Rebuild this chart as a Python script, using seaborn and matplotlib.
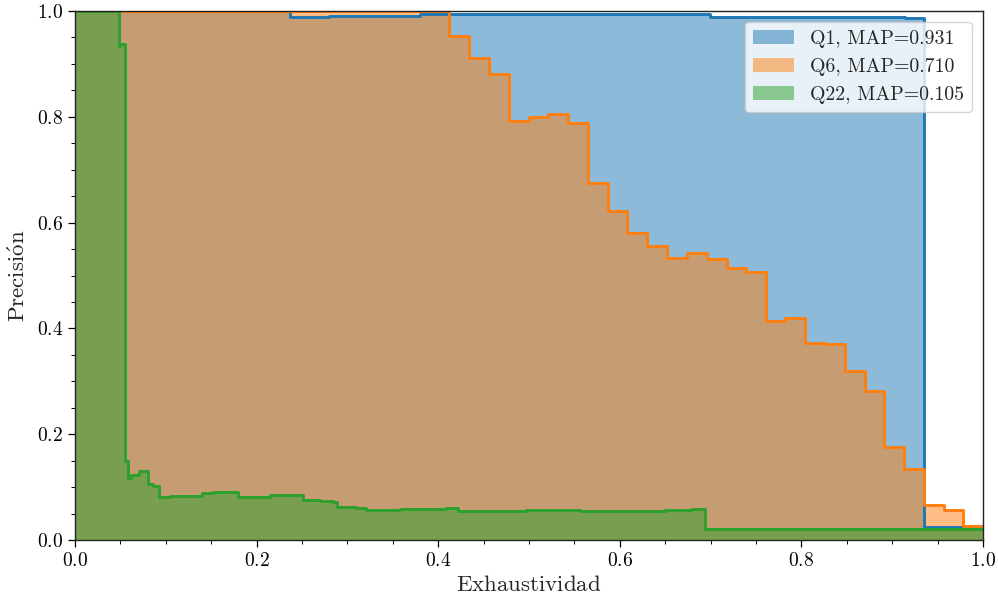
import numpy as np
import pandas as pd
import matplotlib
matplotlib.use("Agg")
import matplotlib.pyplot as plt
import seaborn as sns
from matplotlib.ticker import MultipleLocator

# ---------------- data ----------------
q1_recall = [0.0, 0.237, 0.280, 0.330, 0.380, 0.699, 0.914, 0.935, 1.0]
q1_precision = [1.0, 0.989, 0.990, 0.991, 0.995, 0.989, 0.986, 0.025, 0.025]

q6_recall = [0.0, 0.412, 0.434, 0.456, 0.478, 0.500, 0.521, 0.543, 0.565, 0.587,
             0.608, 0.630, 0.652, 0.674, 0.696, 0.718, 0.739, 0.761, 0.782, 0.804,
             0.826, 0.848, 0.870, 0.891, 0.913, 0.935, 0.957, 0.978, 1.0]
q6_precision = [1.0, 0.952, 0.912, 0.880, 0.793, 0.799, 0.806, 0.788, 0.675, 0.622,
                0.580, 0.555, 0.534, 0.543, 0.532, 0.515, 0.507, 0.414, 0.420, 0.372,
                0.371, 0.319, 0.282, 0.176, 0.134, 0.066, 0.057, 0.026, 0.026]

q22_recall = [0.0, 0.048, 0.050, 0.055, 0.058, 0.062, 0.070, 0.080, 0.086, 0.093,
              0.105, 0.123, 0.140, 0.152, 0.171, 0.180, 0.200, 0.215, 0.237, 0.251,
              0.270, 0.284, 0.288, 0.310, 0.321, 0.358, 0.380, 0.409, 0.422, 0.497,
              0.549, 0.556, 0.615, 0.650, 0.680, 0.694, 1.0]
q22_precision = [1.0, 0.933, 0.938, 0.149, 0.117, 0.122, 0.131, 0.105, 0.102, 0.082,
                 0.083, 0.084, 0.088, 0.091, 0.090, 0.082, 0.082, 0.086, 0.086, 0.076,
                 0.074, 0.072, 0.063, 0.060, 0.057, 0.058, 0.059, 0.060, 0.055, 0.056,
                 0.057, 0.054, 0.055, 0.057, 0.059, 0.021, 0.021]

queries = ["Q1", "Q6", "Q22"]
map_values = [0.931, 0.710, 0.105]

x_label = r"$\mathrm{Exhaustividad}$"
y_label = r"$\mathrm{Precisi\acute{o}n}$"

# ---------------- style ----------------
sns.set_style("ticks")
plt.rcParams["font.family"] = ["cmr10", "DejaVu Serif"]
plt.rcParams["mathtext.fontset"] = "cm"
plt.rcParams["axes.formatter.use_mathtext"] = True
plt.rcParams["axes.unicode_minus"] = False

palette = sns.color_palette("tab10", 3)

fig = plt.figure(figsize=(9.98, 5.98), dpi=100)
ax = fig.add_axes([75 / 998, 1 - 540 / 598, (983 - 75) / 998, (540 - 11) / 598])

series = [(q1_recall, q1_precision), (q6_recall, q6_precision), (q22_recall, q22_precision)]

for (rec, prec), name, mp, col in zip(series, queries, map_values, palette):
    df = pd.DataFrame({"recall": rec, "precision": prec})
    ax.fill_between(df["recall"], df["precision"], step="post", alpha=0.5,
                    color=col, linewidth=0, label=f"{name}, MAP={mp:.3f}")
    sns.lineplot(data=df, x="recall", y="precision", ax=ax, color=col,
                 drawstyle="steps-post", estimator=None, sort=False,
                 linewidth=2.1, legend=False)

ax.set_xlim(0, 1)
ax.set_ylim(0, 1)
ax.xaxis.set_major_locator(MultipleLocator(0.2))
ax.yaxis.set_major_locator(MultipleLocator(0.2))
ax.xaxis.set_minor_locator(MultipleLocator(0.05))
ax.yaxis.set_minor_locator(MultipleLocator(0.05))
ax.tick_params(axis="both", which="major", labelsize=14, direction="out", length=5,
               width=0.9, colors="black")
ax.tick_params(axis="both", which="minor", direction="out", length=3, width=0.7,
               colors="black")
for s in ax.spines.values():
    s.set_linewidth(1.0)
    s.set_color("#222222")

ax.set_xlabel(x_label, fontsize=16.5, labelpad=4)
ax.set_ylabel(y_label, fontsize=16.5, labelpad=6)

ax.legend(loc="upper right", fontsize=14.3, framealpha=0.8, borderaxespad=0.55,
          handlelength=2.1)

fig.savefig("out.png", dpi=100)
